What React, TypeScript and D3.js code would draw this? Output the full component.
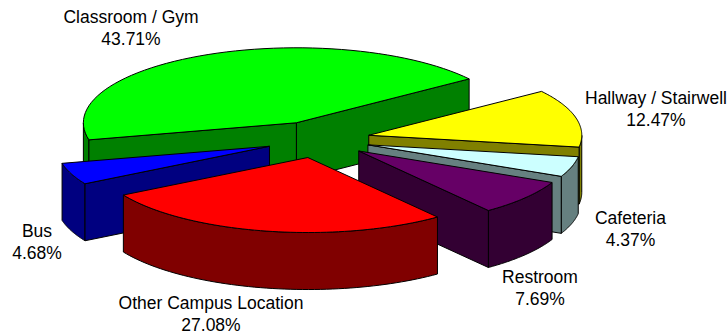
import React from "react";
import * as d3 from "d3";

const categories = ["Classroom / Gym", "Bus", "Other Campus Location", "Restroom", "Cafeteria", "Hallway / Stairwell"];
const shares = [43.71, 4.68, 27.08, 7.69, 4.37, 12.47];
const topColors = ["#00ff00", "#0000ff", "#ff0000", "#660066", "#ccffff", "#ffff00"];
const sideColors = ["#008000", "#000080", "#800000", "#330033", "#668080", "#808000"];
const labelAnchors: [number, number][] = [[131, 23], [37, 237], [211, 309], [540, 283], [630.5, 224], [656, 104]];

const W = 728, H = 335;
const cx = 318, cy = 139.5, rx = 213, ry = 75, depth = 57, explode = 0.245;
const startDeg = 35.8; // counter-clockwise from the +x axis

const pie = d3.pie<number>().sort(null).startAngle(Math.PI / 2 - (startDeg * Math.PI) / 180).endAngle(Math.PI / 2 - (startDeg * Math.PI) / 180 - 2 * Math.PI);
const arcs = pie(shares);
const line = d3.line<[number, number]>();
const poly = (pts: [number, number][]) => line(pts)! + "Z";

const slices = arcs.map((a, i) => {
  const mid = (a.startAngle + a.endAngle) / 2;
  const ox = cx + Math.sin(mid) * rx * explode;
  const oy = cy - Math.cos(mid) * ry * explode;
  const at = (t: number): [number, number] => [ox + Math.sin(t) * rx, oy - Math.cos(t) * ry];
  const steps = d3.range(0, 61).map((k) => a.startAngle + ((a.endAngle - a.startAngle) * k) / 60);
  const rim = steps.map(at);
  const front = steps.filter((t) => Math.cos(t) < 0.0 || Math.abs(Math.cos(t)) < 1e-9).map(at);
  const drop = (p: [number, number]): [number, number] => [p[0], p[1] + depth];
  const wall = (p: [number, number]) => poly([[ox, oy], p, drop(p), [ox, oy + depth]]);
  const s = rim[0], e = rim[rim.length - 1], m = at(mid);
  // a wall faces the viewer when the slice body lies above its top edge
  const faces = (p: [number, number]) => {
    const yOn = oy + ((p[1] - oy) * (m[0] - ox)) / (p[0] - ox);
    return m[1] < yOn;
  };
  const walls = [s, e].filter(faces).map(wall);
  const outer = front.length > 1 ? poly([...front, ...front.map(drop).reverse()]) : null;
  return { i, oy, top: poly([[ox, oy], ...rim]), walls, outer };
});
const paintOrder = d3.sort(slices, (s) => s.oy);

export default function App() {
  return (
    <svg width={W} height={H} viewBox={`0 0 ${W} ${H}`} style={{ position: "absolute", left: 0, top: 0, background: "#fff" }}>
      {paintOrder.map((s) => (
        <g key={s.i} stroke="#000" strokeWidth={1} strokeLinejoin="round">
          {s.outer && <path d={s.outer} fill={sideColors[s.i]} />}
          {s.walls.map((d, k) => (
            <path key={k} d={d} fill={sideColors[s.i]} />
          ))}
          <path d={s.top} fill={topColors[s.i]} />
        </g>
      ))}
      <g fontFamily="'Liberation Sans', Arial, sans-serif" fontSize={17.5} fill="#000" textAnchor="middle">
        {categories.map((c, i) => (
          <text key={c} x={labelAnchors[i][0]} y={labelAnchors[i][1]}>
            <tspan x={labelAnchors[i][0]}>{c}</tspan>
            <tspan x={labelAnchors[i][0]} dy={22}>{shares[i].toFixed(2)}%</tspan>
          </text>
        ))}
      </g>
    </svg>
  );
}
